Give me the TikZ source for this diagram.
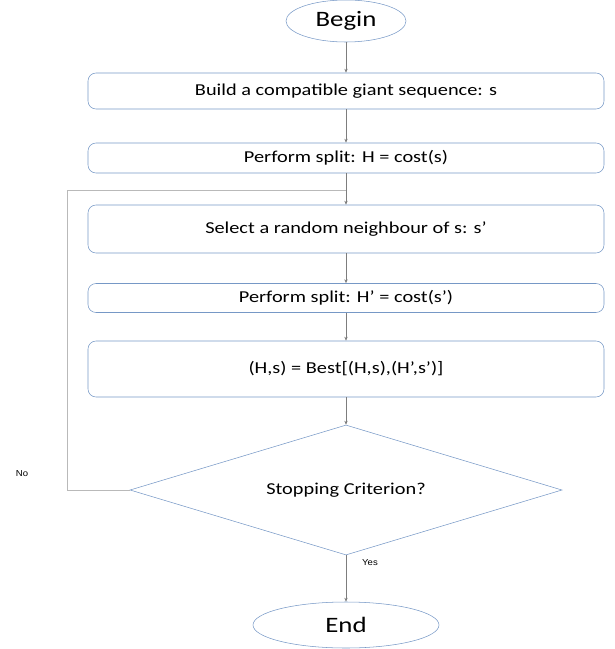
\documentclass[tikz,border=0pt]{standalone}
\usepackage{fontspec}
\setmainfont{Carlito}[FakeStretch=1.22]
\newfontfamily\smallsans{Liberation Sans}[FakeStretch=1.1]
\usetikzlibrary{shapes.geometric,arrows.meta}
\definecolor{boxblue}{RGB}{118,152,198}
\definecolor{linegray}{RGB}{125,125,125}
\definecolor{loopgray}{RGB}{185,185,185}
\begin{document}
\begin{tikzpicture}[x=0.75pt,y=0.75pt,yscale=-1,xscale=1,
    terminal/.style={draw=boxblue, ellipse, inner sep=0pt, font=\fontsize{16.5}{18}\selectfont},
    stepbox/.style={draw=boxblue, rounded corners=6pt, minimum width=387pt, inner sep=0pt, font=\fontsize{12.5}{14}\selectfont},
    flow/.style={draw=linegray, line width=0.5pt, -{Stealth[length=3pt,width=2.5pt]}},
    tag/.style={font=\smallsans\fontsize{6.5}{8}\selectfont, inner sep=0.75pt}]
\useasboundingbox (0,0) rectangle (614,649);
% Terminal: Begin
\node [terminal, minimum width=90pt, minimum height=31.5pt] (begin) at (346,21) {Begin};
% Process boxes
\node [stepbox, minimum height=27pt] (build) at (346,91) {Build a compatible giant sequence: s};
\node [stepbox, minimum height=22.5pt] (split) at (346,158) {Perform split: H = cost(s)};
\node [stepbox, minimum height=36pt] (select) at (346,229) {Select a random neighbour of s: s’};
\node [stepbox, minimum height=21.75pt] (splitb) at (346,298) {Perform split: H’ = cost(s’)};
\node [stepbox, minimum height=42pt] (best) at (346,369) {(H,s) = Best[(H,s),(H’,s’)]};
% Decision
\node [draw=boxblue, diamond, aspect=3.32, minimum width=324pt, minimum height=97.5pt, inner sep=0pt, font=\fontsize{12.5}{14}\selectfont] (stop) at (346,490) {Stopping Criterion?};
% Terminal: End
\node [terminal, minimum width=139.5pt, minimum height=34.5pt] (end) at (346,625) {End};
% Labels
\node [tag] (no) at (22,474) {No};
\node [tag] (yes) at (370,563) {Yes};
% Connectors
\coordinate (loop) at (346,190);
\draw [flow] (begin) -- (build);
\draw [flow] (build) -- (split);
\draw [flow] (split) -- (select);
\draw [flow] (select) -- (splitb);
\draw [flow] (splitb) -- (best);
\draw [flow] (best) -- (stop);
\draw [flow] (stop) -- (end);
% Loop back on No
\draw [draw=loopgray, line width=0.6pt] (stop.west) -- ++(-62,0) |- (loop);
\end{tikzpicture}
\end{document}
